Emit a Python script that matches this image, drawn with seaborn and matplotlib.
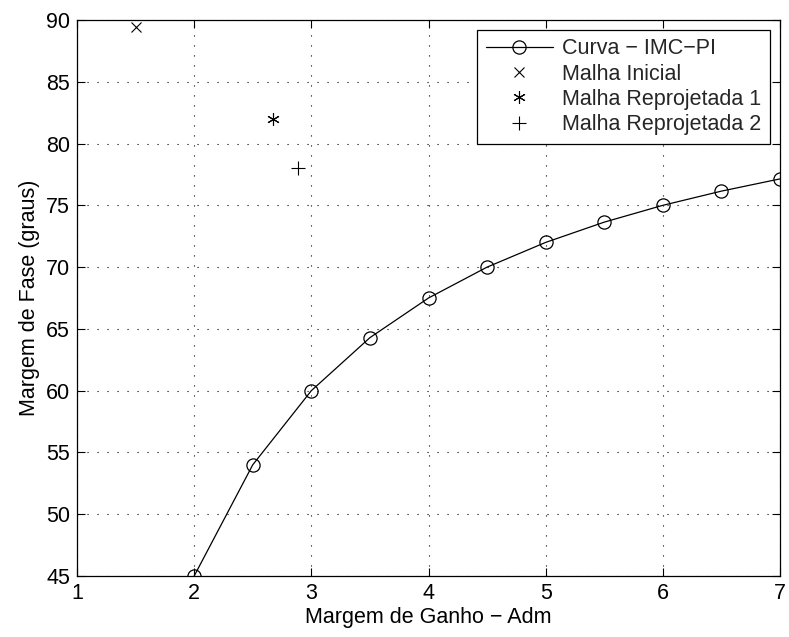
import matplotlib
matplotlib.use("Agg")
import matplotlib.pyplot as plt
import seaborn as sns
import pandas as pd

# Data
gain_margin = [2.0, 2.5, 3.0, 3.5, 4.0, 4.5, 5.0, 5.5, 6.0, 6.5, 7.0]
phase_margin = [45.0, 54.0, 60.0, 64.29, 67.5, 70.0, 72.0, 73.64, 75.0, 76.15, 77.14]
initial_x = [1.5]
initial_y = [89.4]
redesign1_x = [2.67]
redesign1_y = [82.0]
redesign2_x = [2.89]
redesign2_y = [78.0]
xticks = [1, 2, 3, 4, 5, 6, 7]
yticks = [45, 50, 55, 60, 65, 70, 75, 80, 85, 90]

sns.set_theme(style="white")
plt.rcParams['font.family'] = ['Liberation Sans', 'DejaVu Sans']
FS = 15.5

fig = plt.figure(figsize=(7.89, 6.37), dpi=100)
ax = fig.add_axes([77 / 789, 61 / 637, 703 / 789, 556 / 637])

df = pd.DataFrame({"x": gain_margin, "y": phase_margin})
sns.lineplot(data=df, x="x", y="y", ax=ax, color="black", linewidth=0.9,
             marker="o", markersize=9.5, markerfacecolor="none",
             markeredgecolor="black", markeredgewidth=0.9, label="Curva \u2212 IMC\u2212PI")
ax.plot(initial_x, initial_y, linestyle="none", marker="x", markersize=6.5,
        color="black", markeredgewidth=0.8, label="Malha Inicial")
ax.plot(redesign1_x, redesign1_y, linestyle="none", marker=(6, 2, 0), markersize=9,
        color="black", markeredgewidth=0.8, label="Malha Reprojetada 1")
ax.plot(redesign2_x, redesign2_y, linestyle="none", marker="+", markersize=9.5,
        color="black", markeredgewidth=0.8, label="Malha Reprojetada 2")

ax.set_xlim(1, 7)
ax.set_ylim(45, 90)
ax.set_xticks(xticks)
ax.set_yticks(yticks)
ax.tick_params(direction="in", length=6, width=0.8, labelsize=FS, colors="black",
               top=True, right=True, bottom=True, left=True)
ax.tick_params(axis="x", pad=5)
ax.tick_params(axis="y", pad=5)
ax.grid(True, linestyle=(0, (1, 8)), color="black", linewidth=0.8)
for s in ax.spines.values():
    s.set_visible(True)
    s.set_color("black")
    s.set_linewidth(0.9)
ax.set_xlabel("Margem de Ganho \u2212 Adm", fontsize=FS, color="black", labelpad=2)
ax.set_ylabel("Margem de Fase (graus)", fontsize=FS, color="black", labelpad=4)

leg = ax.legend(loc="upper right", fontsize=FS, frameon=True, fancybox=False,
                edgecolor="black", framealpha=1, borderpad=0.4, labelspacing=0.2,
                handlelength=3.1, handletextpad=0.45, borderaxespad=0.45)
leg.get_frame().set_linewidth(0.9)

fig.savefig("out.png", dpi=100)
